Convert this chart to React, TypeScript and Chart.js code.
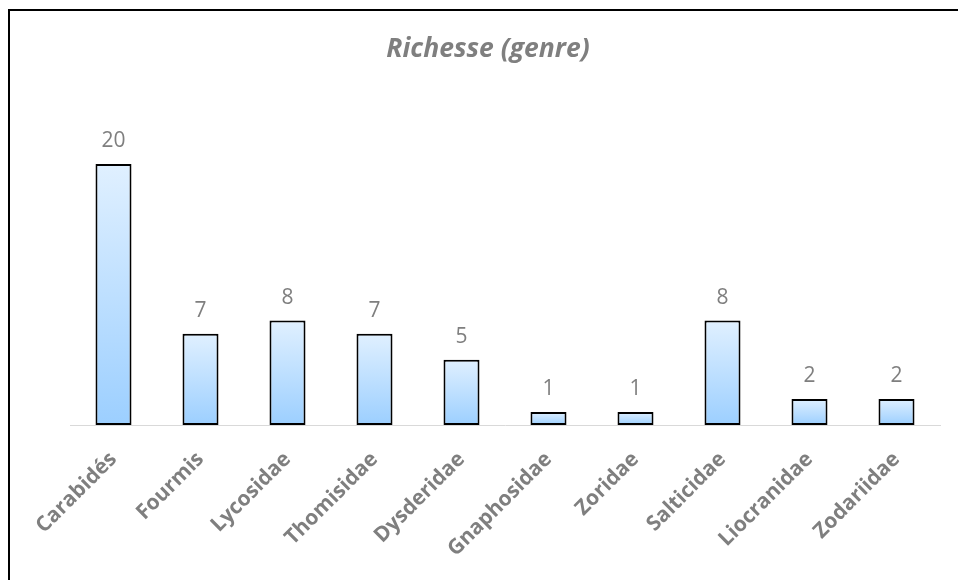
import React, { useEffect, useRef } from "react";
import { Chart, registerables } from "chart.js";

Chart.register(...registerables);

const categories = [
  "Carabidés",
  "Fourmis",
  "Lycosidae",
  "Thomisidae",
  "Dysderidae",
  "Gnaphosidae",
  "Zoridae",
  "Salticidae",
  "Liocranidae",
  "Zodariidae",
];
const richesse = [20, 7, 8, 7, 5, 1, 1, 8, 2, 2];
const chartTitle = "Richesse (genre)";

const FONT = "'Open Sans', 'Noto Sans', sans-serif";
const GREY = "#7f7f7f";

const valueLabels = {
  id: "valueLabels",
  afterDatasetsDraw(chart: any) {
    const ctx = chart.ctx;
    const meta = chart.getDatasetMeta(0);
    const data = chart.data.datasets[0].data;
    ctx.save();
    ctx.font = `normal 21px ${FONT}`;
    ctx.fillStyle = GREY;
    ctx.textAlign = "center";
    ctx.textBaseline = "alphabetic";
    meta.data.forEach((bar: any, i: number) => {
      ctx.fillText(String(data[i]), bar.x, bar.y - 17);
    });
    ctx.restore();
  },
};

export default function App() {
  const canvasRef = useRef<HTMLCanvasElement | null>(null);

  useEffect(() => {
    if (!canvasRef.current) return;
    const chart = new Chart(canvasRef.current, {
      type: "bar",
      data: {
        labels: categories,
        datasets: [
          {
            label: chartTitle,
            data: richesse,
            backgroundColor: (c: any) => {
              const ch = c.chart;
              if (!ch.chartArea || c.type !== "data") return "#bcdfff";
              const ys = ch.scales.y;
              const top = ys.getPixelForValue(c.raw);
              const bottom = ys.getPixelForValue(0);
              const g = ch.ctx.createLinearGradient(0, top, 0, bottom);
              g.addColorStop(0, "#e0f0ff");
              g.addColorStop(1, "#9ccfff");
              return g;
            },
            borderColor: "#000000",
            borderWidth: 2,
            borderSkipped: false,
            categoryPercentage: 1,
            barPercentage: 0.414,
          },
        ],
      },
      options: {
        responsive: false,
        animation: false,
        devicePixelRatio: 1,
        layout: { padding: { left: 36, right: 18, top: 0, bottom: 0 } },
        plugins: {
          legend: { display: false },
          tooltip: { enabled: false },
          title: {
            display: true,
            text: chartTitle,
            color: GREY,
            font: { family: FONT, size: 26.5, weight: "bold", style: "italic" },
            padding: { top: 34, bottom: 33 },
          },
        },
        scales: {
          x: {
            grid: { display: false },
            border: { display: true, color: "#d9d9d9", width: 1 },
            ticks: {
              color: GREY,
              font: { family: FONT, size: 21, weight: "bold" },
              minRotation: 45,
              maxRotation: 45,
              autoSkip: false,
              padding: 14,
            },
            afterFit: (s: any) => {
              s.height = 155;
            },
          },
          y: {
            display: true,
            min: 0,
            max: 25,
            grid: { display: false },
            border: { display: false },
            ticks: { display: false },
            afterFit: (s: any) => {
              s.width = 34;
            },
          },
        },
      },
      plugins: [valueLabels],
    });
    return () => chart.destroy();
  }, []);

  return (
    <div
      style={{
        position: "fixed",
        left: 0,
        top: 0,
        width: 958,
        height: 580,
        overflow: "hidden",
        background: "#ffffff",
      }}
    >
      <div
        style={{
          position: "absolute",
          left: 8,
          top: 9,
          width: 1200,
          height: 1200,
          border: "2px solid #000000",
          boxSizing: "border-box",
        }}
      />
      <canvas
        ref={canvasRef}
        width={958}
        height={580}
        style={{ position: "absolute", left: 0, top: 0, width: 958, height: 580 }}
      />
    </div>
  );
}
